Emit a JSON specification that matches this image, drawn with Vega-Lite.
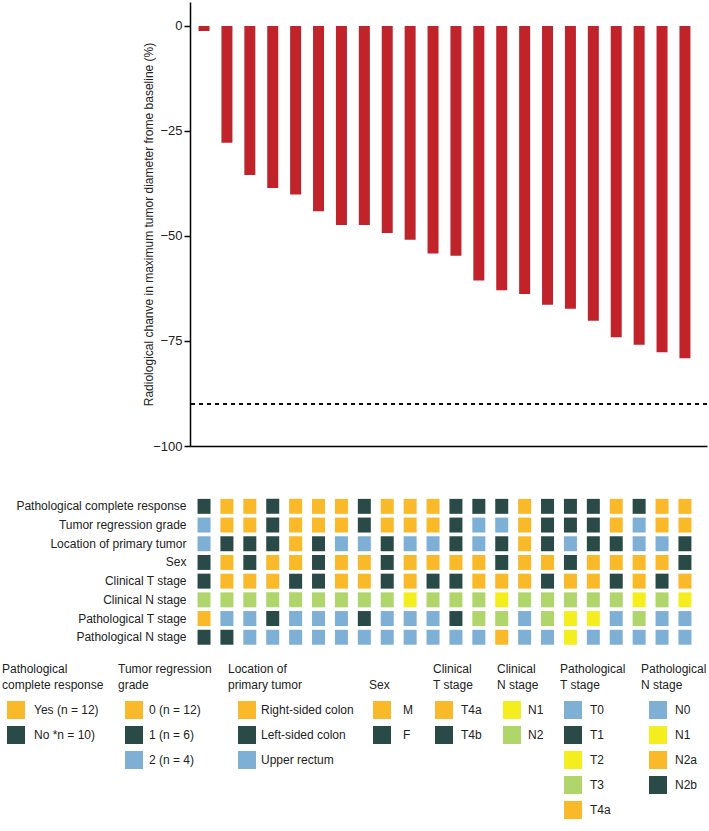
{
  "$schema": "https://vega.github.io/schema/vega-lite/v6.json",
  "padding": {"left": 2, "top": 2, "right": 2, "bottom": 2},
  "config": {
    "font": "Liberation Sans",
    "view": {"stroke": null},
    "axis": {"grid": false, "labelColor": "#222222", "titleColor": "#222222", "titleFontWeight": "normal"},
    "legend": {
      "titleFontSize": 12, "titleFontWeight": "normal", "titleColor": "#222222", "titleLineHeight": 16,
      "titleLimit": 300, "titlePadding": 9,
      "labelFontSize": 12, "labelColor": "#222222", "labelLimit": 300,
      "symbolType": "square", "symbolSize": 324, "symbolStrokeWidth": 0, "symbolOpacity": 1,
      "rowPadding": 7, "padding": 0, "direction": "vertical"
    }
  },
  "datasets": {
    "patients": [
      {"id": 1, "change": -1.2, "Pathological complete response": "No", "Tumor regression grade": "2", "Location of primary tumor": "Upper rectum", "Sex": "F", "Clinical T stage": "T4b", "Clinical N stage": "N2", "Pathological T stage": "T4a", "Pathological N stage": "N2b"},
      {"id": 2, "change": -27.8, "Pathological complete response": "Yes", "Tumor regression grade": "0", "Location of primary tumor": "Left-sided colon", "Sex": "M", "Clinical T stage": "T4a", "Clinical N stage": "N2", "Pathological T stage": "T0", "Pathological N stage": "N2b"},
      {"id": 3, "change": -35.5, "Pathological complete response": "Yes", "Tumor regression grade": "0", "Location of primary tumor": "Left-sided colon", "Sex": "F", "Clinical T stage": "T4a", "Clinical N stage": "N2", "Pathological T stage": "T0", "Pathological N stage": "N0"},
      {"id": 4, "change": -38.6, "Pathological complete response": "No", "Tumor regression grade": "1", "Location of primary tumor": "Left-sided colon", "Sex": "M", "Clinical T stage": "T4a", "Clinical N stage": "N2", "Pathological T stage": "T1", "Pathological N stage": "N0"},
      {"id": 5, "change": -40.1, "Pathological complete response": "Yes", "Tumor regression grade": "0", "Location of primary tumor": "Right-sided colon", "Sex": "M", "Clinical T stage": "T4b", "Clinical N stage": "N2", "Pathological T stage": "T0", "Pathological N stage": "N0"},
      {"id": 6, "change": -44.1, "Pathological complete response": "Yes", "Tumor regression grade": "0", "Location of primary tumor": "Left-sided colon", "Sex": "F", "Clinical T stage": "T4b", "Clinical N stage": "N2", "Pathological T stage": "T0", "Pathological N stage": "N0"},
      {"id": 7, "change": -47.4, "Pathological complete response": "Yes", "Tumor regression grade": "0", "Location of primary tumor": "Upper rectum", "Sex": "M", "Clinical T stage": "T4a", "Clinical N stage": "N2", "Pathological T stage": "T0", "Pathological N stage": "N0"},
      {"id": 8, "change": -47.4, "Pathological complete response": "No", "Tumor regression grade": "1", "Location of primary tumor": "Upper rectum", "Sex": "M", "Clinical T stage": "T4a", "Clinical N stage": "N2", "Pathological T stage": "T1", "Pathological N stage": "N0"},
      {"id": 9, "change": -49.3, "Pathological complete response": "Yes", "Tumor regression grade": "0", "Location of primary tumor": "Left-sided colon", "Sex": "F", "Clinical T stage": "T4b", "Clinical N stage": "N2", "Pathological T stage": "T0", "Pathological N stage": "N0"},
      {"id": 10, "change": -50.9, "Pathological complete response": "Yes", "Tumor regression grade": "0", "Location of primary tumor": "Upper rectum", "Sex": "M", "Clinical T stage": "T4a", "Clinical N stage": "N1", "Pathological T stage": "T0", "Pathological N stage": "N0"},
      {"id": 11, "change": -54.2, "Pathological complete response": "Yes", "Tumor regression grade": "0", "Location of primary tumor": "Upper rectum", "Sex": "M", "Clinical T stage": "T4b", "Clinical N stage": "N2", "Pathological T stage": "T0", "Pathological N stage": "N0"},
      {"id": 12, "change": -54.7, "Pathological complete response": "No", "Tumor regression grade": "1", "Location of primary tumor": "Left-sided colon", "Sex": "M", "Clinical T stage": "T4b", "Clinical N stage": "N2", "Pathological T stage": "T1", "Pathological N stage": "N0"},
      {"id": 13, "change": -60.6, "Pathological complete response": "No", "Tumor regression grade": "2", "Location of primary tumor": "Upper rectum", "Sex": "M", "Clinical T stage": "T4a", "Clinical N stage": "N2", "Pathological T stage": "T3", "Pathological N stage": "N0"},
      {"id": 14, "change": -62.9, "Pathological complete response": "No", "Tumor regression grade": "2", "Location of primary tumor": "Left-sided colon", "Sex": "F", "Clinical T stage": "T4a", "Clinical N stage": "N1", "Pathological T stage": "T3", "Pathological N stage": "N2a"},
      {"id": 15, "change": -63.8, "Pathological complete response": "Yes", "Tumor regression grade": "0", "Location of primary tumor": "Right-sided colon", "Sex": "M", "Clinical T stage": "T4a", "Clinical N stage": "N2", "Pathological T stage": "T0", "Pathological N stage": "N0"},
      {"id": 16, "change": -66.4, "Pathological complete response": "No", "Tumor regression grade": "1", "Location of primary tumor": "Left-sided colon", "Sex": "M", "Clinical T stage": "T4b", "Clinical N stage": "N2", "Pathological T stage": "T3", "Pathological N stage": "N0"},
      {"id": 17, "change": -67.3, "Pathological complete response": "No", "Tumor regression grade": "1", "Location of primary tumor": "Upper rectum", "Sex": "F", "Clinical T stage": "T4a", "Clinical N stage": "N2", "Pathological T stage": "T2", "Pathological N stage": "N1"},
      {"id": 18, "change": -70.2, "Pathological complete response": "No", "Tumor regression grade": "1", "Location of primary tumor": "Left-sided colon", "Sex": "M", "Clinical T stage": "T4a", "Clinical N stage": "N2", "Pathological T stage": "T2", "Pathological N stage": "N0"},
      {"id": 19, "change": -74.1, "Pathological complete response": "Yes", "Tumor regression grade": "0", "Location of primary tumor": "Left-sided colon", "Sex": "M", "Clinical T stage": "T4b", "Clinical N stage": "N2", "Pathological T stage": "T0", "Pathological N stage": "N0"},
      {"id": 20, "change": -75.9, "Pathological complete response": "No", "Tumor regression grade": "2", "Location of primary tumor": "Upper rectum", "Sex": "M", "Clinical T stage": "T4a", "Clinical N stage": "N1", "Pathological T stage": "T3", "Pathological N stage": "N0"},
      {"id": 21, "change": -77.7, "Pathological complete response": "Yes", "Tumor regression grade": "0", "Location of primary tumor": "Upper rectum", "Sex": "M", "Clinical T stage": "T4b", "Clinical N stage": "N2", "Pathological T stage": "T0", "Pathological N stage": "N0"},
      {"id": 22, "change": -79.1, "Pathological complete response": "Yes", "Tumor regression grade": "0", "Location of primary tumor": "Left-sided colon", "Sex": "F", "Clinical T stage": "T4a", "Clinical N stage": "N1", "Pathological T stage": "T0", "Pathological N stage": "N0"}
    ]
  },
  "spacing": 44,
  "resolve": {"scale": {"color": "independent"}, "legend": {"color": "independent"}},
  "vconcat": [
    {
      "width": 517,
      "height": 444,
      "layer": [
        {
          "data": {"name": "patients"},
          "mark": {"type": "bar", "color": "#C1232B"},
          "encoding": {
            "x": {"field": "id", "type": "ordinal",
              "scale": {"type": "band", "paddingInner": 0.52, "paddingOuter": 0.548, "align": 0.34, "round": false},
              "axis": {"labels": false, "ticks": false, "title": null, "domain": true, "domainColor": "#000000", "domainWidth": 1.5}},
            "y": {"field": "change", "type": "quantitative",
              "scale": {"domain": [-100, 5.7], "nice": false, "zero": false},
              "axis": {"values": [-100, -75, -50, -25, 0], "title": "Radiological chanve in maximum tumor diameter frome baseline (%)",
                "titleFontSize": 12, "titlePadding": -3, "labelFontSize": 13, "labelPadding": 2,
                "tickSize": 6, "tickWidth": 1.5, "tickColor": "#000000", "domainColor": "#000000", "domainWidth": 1.5}}
          }
        },
        {
          "data": {"values": [{"threshold": -90}]},
          "mark": {"type": "rule", "strokeDash": [4, 4], "strokeWidth": 2, "color": "#111111"},
          "encoding": {"y": {"field": "threshold", "type": "quantitative"}}
        }
      ]
    },
    {
      "width": 517,
      "height": 149.6,
      "data": {"name": "patients"},
      "transform": [
        {"fold": ["Pathological complete response", "Tumor regression grade", "Location of primary tumor", "Sex", "Clinical T stage", "Clinical N stage", "Pathological T stage", "Pathological N stage"], "as": ["key", "value"]}
      ],
      "encoding": {
        "x": {"field": "id", "type": "ordinal",
          "scale": {"type": "band", "paddingInner": 0.4323, "paddingOuter": 0.5041, "align": 0.326, "round": false},
          "axis": null},
        "y": {"field": "key", "type": "nominal",
          "scale": {"domain": ["Pathological complete response", "Tumor regression grade", "Location of primary tumor", "Sex", "Clinical T stage", "Clinical N stage", "Pathological T stage", "Pathological N stage"], "paddingInner": 0.2, "paddingOuter": 0.1},
          "axis": {"title": null, "domain": false, "ticks": false, "labelFontSize": 12, "labelPadding": 4, "labelLimit": 300}}
      },
      "resolve": {"scale": {"color": "independent"}, "legend": {"color": "independent"}},
      "layer": [
        {
          "transform": [{"filter": "datum.key == 'Pathological complete response'"}],
          "mark": {"type": "rect"},
          "encoding": {"color": {"field": "value", "type": "nominal",
            "scale": {"domain": ["Yes", "No"], "range": ["#F9B928", "#2A4A47"]},
            "legend": {"title": ["Pathological", "complete response"], "orient": "none", "legendX": -188, "legendY": 167, "symbolOffset": 5, "labelOffset": 9,
              "labelExpr": "datum.label == 'Yes' ? 'Yes (n = 12)' : 'No *n = 10)'"}}}
        },
        {
          "transform": [{"filter": "datum.key == 'Tumor regression grade'"}],
          "mark": {"type": "rect"},
          "encoding": {"color": {"field": "value", "type": "nominal",
            "scale": {"domain": ["0", "1", "2"], "range": ["#F9B928", "#2A4A47", "#7EAFD4"]},
            "legend": {"title": ["Tumor regression", "grade"], "orient": "none", "legendX": -72, "legendY": 167, "symbolOffset": 7, "labelOffset": 6,
              "labelExpr": "datum.label == '0' ? '0 (n = 12)' : datum.label == '1' ? '1 (n = 6)' : '2 (n = 4)'"}}}
        },
        {
          "transform": [{"filter": "datum.key == 'Location of primary tumor'"}],
          "mark": {"type": "rect"},
          "encoding": {"color": {"field": "value", "type": "nominal",
            "scale": {"domain": ["Right-sided colon", "Left-sided colon", "Upper rectum"], "range": ["#F9B928", "#2A4A47", "#7EAFD4"]},
            "legend": {"title": ["Location of", "primary tumor"], "orient": "none", "legendX": 38, "legendY": 167, "symbolOffset": 10, "labelOffset": 5}}}
        },
        {
          "transform": [{"filter": "datum.key == 'Sex'"}],
          "mark": {"type": "rect"},
          "encoding": {"color": {"field": "value", "type": "nominal",
            "scale": {"domain": ["M", "F"], "range": ["#F9B928", "#2A4A47"]},
            "legend": {"title": [" ", "Sex"], "orient": "none", "legendX": 179, "legendY": 167, "symbolOffset": 4, "labelOffset": 12}}}
        },
        {
          "transform": [{"filter": "datum.key == 'Clinical T stage'"}],
          "mark": {"type": "rect"},
          "encoding": {"color": {"field": "value", "type": "nominal",
            "scale": {"domain": ["T4a", "T4b"], "range": ["#F9B928", "#2A4A47"]},
            "legend": {"title": ["Clinical", "T stage"], "orient": "none", "legendX": 243, "legendY": 167, "symbolOffset": 2, "labelOffset": 8}}}
        },
        {
          "transform": [{"filter": "datum.key == 'Clinical N stage'"}],
          "mark": {"type": "rect"},
          "encoding": {"color": {"field": "value", "type": "nominal",
            "scale": {"domain": ["N1", "N2"], "range": ["#F5EE1E", "#B0D56B"]},
            "legend": {"title": ["Clinical", "N stage"], "orient": "none", "legendX": 307, "legendY": 167, "symbolOffset": 6, "labelOffset": 7}}}
        },
        {
          "transform": [{"filter": "datum.key == 'Pathological T stage'"}],
          "mark": {"type": "rect"},
          "encoding": {"color": {"field": "value", "type": "nominal",
            "scale": {"domain": ["T0", "T1", "T2", "T3", "T4a"], "range": ["#7EAFD4", "#2A4A47", "#F5EE1E", "#B0D56B", "#F9B928"]},
            "legend": {"title": ["Pathological", "T stage"], "orient": "none", "legendX": 370, "legendY": 167, "symbolOffset": 4, "labelOffset": 8}}}
        },
        {
          "transform": [{"filter": "datum.key == 'Pathological N stage'"}],
          "mark": {"type": "rect"},
          "encoding": {"color": {"field": "value", "type": "nominal",
            "scale": {"domain": ["N0", "N1", "N2a", "N2b"], "range": ["#7EAFD4", "#F5EE1E", "#F9B928", "#2A4A47"]},
            "legend": {"title": ["Pathological", "N stage"], "orient": "none", "legendX": 451, "legendY": 167, "symbolOffset": 8, "labelOffset": 8}}}
        }
      ]
    }
  ]
}
